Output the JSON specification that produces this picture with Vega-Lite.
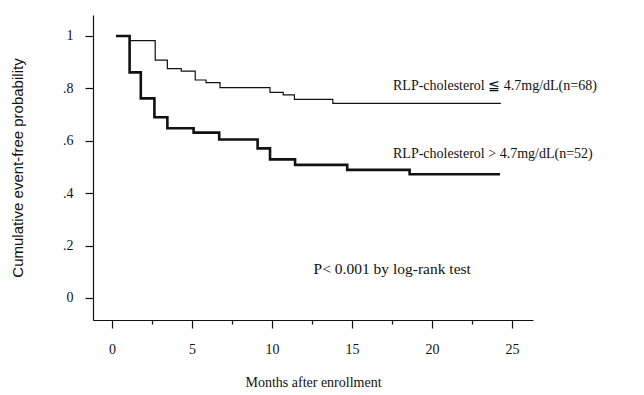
{
  "$schema": "https://vega.github.io/schema/vega-lite/v6.json",
  "autosize": "none",
  "width": 440,
  "height": 305,
  "padding": {"left": 93, "top": 15, "right": 111, "bottom": 75},
  "background": "white",
  "config": {
    "view": {"stroke": null},
    "font": "Liberation Serif",
    "axis": {
      "domainColor": "#111",
      "domainWidth": 1.2,
      "tickColor": "#111",
      "labelColor": "#111",
      "titleColor": "#111",
      "labelFont": "Liberation Serif",
      "titleFont": "Liberation Serif",
      "labelFontSize": 14,
      "titleFontSize": 14,
      "titleFontWeight": "normal",
      "grid": false
    }
  },
  "datasets": {
    "curves": [
      {"group": "low", "month": 0.25, "p": 1.0},
      {"group": "low", "month": 1.1, "p": 0.982},
      {"group": "low", "month": 2.7, "p": 0.908},
      {"group": "low", "month": 3.46, "p": 0.875},
      {"group": "low", "month": 4.33, "p": 0.866},
      {"group": "low", "month": 5.2, "p": 0.832},
      {"group": "low", "month": 5.875, "p": 0.822},
      {"group": "low", "month": 6.75, "p": 0.803},
      {"group": "low", "month": 9.875, "p": 0.785},
      {"group": "low", "month": 10.7, "p": 0.775},
      {"group": "low", "month": 11.4, "p": 0.758},
      {"group": "low", "month": 13.8, "p": 0.743},
      {"group": "low", "month": 24.3, "p": 0.743},
      {"group": "high", "month": 0.25, "p": 1.0},
      {"group": "high", "month": 1.1, "p": 0.861},
      {"group": "high", "month": 1.8, "p": 0.762},
      {"group": "high", "month": 2.65, "p": 0.69},
      {"group": "high", "month": 3.46, "p": 0.648},
      {"group": "high", "month": 5.1, "p": 0.631},
      {"group": "high", "month": 6.7, "p": 0.605},
      {"group": "high", "month": 9.1, "p": 0.571},
      {"group": "high", "month": 9.875, "p": 0.529},
      {"group": "high", "month": 11.44, "p": 0.508},
      {"group": "high", "month": 14.7, "p": 0.489},
      {"group": "high", "month": 18.6, "p": 0.472},
      {"group": "high", "month": 24.25, "p": 0.472}
    ],
    "labels": [
      {"month": 17.56, "p": 0.809, "text": "RLP-cholesterol ≦ 4.7mg/dL(n=68)", "size": "a"},
      {"month": 17.56, "p": 0.55, "text": "RLP-cholesterol > 4.7mg/dL(n=52)", "size": "a"},
      {"month": 12.6, "p": 0.11, "text": "P< 0.001 by log-rank test", "size": "b"}
    ]
  },
  "layer": [
    {
      "data": {"name": "curves"},
      "mark": {"type": "line", "interpolate": "step-after", "color": "#111"},
      "encoding": {
        "x": {
          "field": "month", "type": "quantitative",
          "scale": {"domain": [-1.1875, 26.31], "nice": false, "zero": false},
          "axis": {
            "title": "Months after enrollment",
            "values": [0, 2.5, 5, 7.5, 10, 12.5, 15, 17.5, 20, 22.5, 25],
            "labelExpr": "datum.value % 5 === 0 ? datum.label : ''",
            "tickSize": {"condition": {"test": "datum.value % 5 === 0", "value": 8}, "value": 4},
            "tickWidth": 1.2,
            "labelPadding": 14,
            "titlePadding": 19
          }
        },
        "y": {
          "field": "p", "type": "quantitative",
          "scale": {"domain": [-0.084, 1.08], "nice": false, "zero": false},
          "axis": {
            "title": "Cumulative  event-free probability",
            "titleFont": "Liberation Sans",
            "titleFontSize": 15,
            "values": [0, 0.1, 0.2, 0.3, 0.4, 0.5, 0.6, 0.7, 0.8, 0.9, 1],
            "labelExpr": "round(datum.value*10) % 2 !== 0 ? '' : (datum.value === 0 ? '0' : (datum.value === 1 ? '1' : replace(format(datum.value, '.1f'), '0.', '.')))",
            "tickSize": {"condition": {"test": "round(datum.value*10) % 2 === 0", "value": 8}, "value": 5},
            "tickWidth": 1.2,
            "labelPadding": 12,
            "titlePadding": 37
          }
        },
        "detail": {"field": "group"},
        "strokeWidth": {
          "field": "group", "type": "nominal",
          "scale": {"domain": ["low", "high"], "range": [1.2, 2.6]},
          "legend": null
        }
      }
    },
    {
      "data": {"name": "labels"},
      "mark": {"type": "text", "align": "left", "baseline": "middle", "font": "Liberation Serif", "color": "#111"},
      "encoding": {
        "x": {"field": "month", "type": "quantitative"},
        "y": {"field": "p", "type": "quantitative"},
        "text": {"field": "text"},
        "size": {
          "field": "size", "type": "nominal",
          "scale": {"domain": ["a", "b"], "range": [14, 15.5]},
          "legend": null
        }
      }
    }
  ]
}
